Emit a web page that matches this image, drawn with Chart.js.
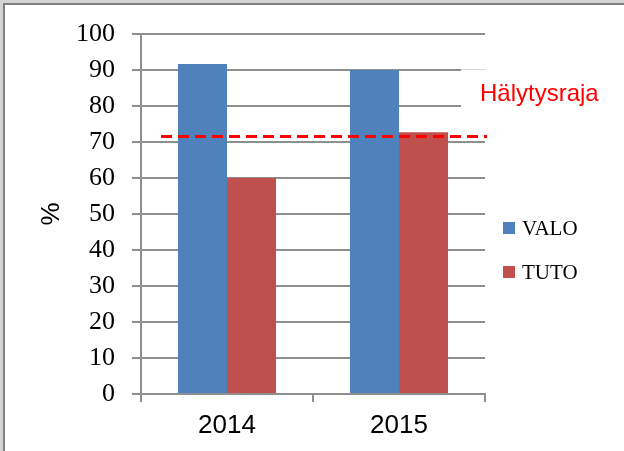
<!DOCTYPE html>
<html>
<head>
<meta charset="utf-8">
<script src="https://cdn.jsdelivr.net/npm/chart.js@4.4.1/dist/chart.umd.min.js"></script>
<style>
  html, body { margin: 0; padding: 0; background: #fff; }
  canvas { display: block; }
</style>
</head>
<body>
<canvas id="chart" width="624" height="451"></canvas>
<script>
// Chart data
const years = ["2014", "2015"];
const valoValues = [91.7, 90];
const tutoValues = [60, 72.7];
const alarmLimit = 71.5;
const alarmLabel = "Hälytysraja";
const seriesNames = ["VALO", "TUTO"];
const seriesColors = ["#4F81BD", "#C0504D"];

const gridColor = "#8f8f8f";

// Frame, threshold line and legend drawn on top of the chart
const extras = {
  id: "extras",
  beforeDraw(chart) {
    const ctx = chart.ctx;
    ctx.save();
    ctx.fillStyle = "#d4d4d4";
    ctx.fillRect(0, 0, chart.width, 4);
    ctx.fillRect(0, 0, 4, chart.height);
    ctx.fillStyle = "#808080";
    ctx.fillRect(3, 3, chart.width - 3, 2);
    ctx.fillRect(3, 3, 2, chart.height - 3);
    ctx.restore();
  },
  afterDatasetsDraw(chart) {
    const ctx = chart.ctx;
    const x = chart.scales.x;
    const y = chart.scales.y;
    ctx.save();

    // label box covering the grid
    const boxTop = y.getPixelForValue(90) - 1;
    const boxBottom = y.getPixelForValue(80) + 2;
    ctx.fillStyle = "#fff";
    ctx.fillRect(x.right - 24, boxTop, 150, boxBottom - boxTop);
    ctx.strokeStyle = "#d6d6d6";
    ctx.lineWidth = 1;
    ctx.beginPath();
    ctx.moveTo(x.right - 24, boxTop + 0.5);
    ctx.lineTo(x.right, boxTop + 0.5);
    ctx.stroke();

    // threshold line
    const ly = y.getPixelForValue(alarmLimit);
    ctx.strokeStyle = "#FF0000";
    ctx.lineWidth = 3;
    ctx.setLineDash([11, 6]);
    ctx.beginPath();
    ctx.moveTo(x.left + 20, ly);
    ctx.lineTo(x.right + 2, ly);
    ctx.stroke();
    ctx.setLineDash([]);

    ctx.fillStyle = "#FF0000";
    ctx.font = "24px 'Liberation Sans', Arial, sans-serif";
    ctx.textBaseline = "alphabetic";
    ctx.textAlign = "left";
    ctx.fillText(alarmLabel, 480, 101);

    // legend
    ctx.font = "21px 'Liberation Serif', 'Times New Roman', serif";
    ctx.textBaseline = "middle";
    const legendY = [228, 272];
    seriesNames.forEach((name, i) => {
      ctx.fillStyle = seriesColors[i];
      ctx.fillRect(503, legendY[i] - 6, 12, 12);
      ctx.fillStyle = "#000";
      ctx.fillText(name, 522, legendY[i] + 1);
    });
    ctx.restore();
  }
};

new Chart(document.getElementById("chart"), {
  type: "bar",
  data: {
    labels: years,
    datasets: [
      {
        label: seriesNames[0],
        data: valoValues,
        backgroundColor: seriesColors[0],
        categoryPercentage: 0.57,
        barPercentage: 1.0,
      },
      {
        label: seriesNames[1],
        data: tutoValues,
        backgroundColor: seriesColors[1],
        categoryPercentage: 0.57,
        barPercentage: 1.0,
      },
    ],
  },
  plugins: [extras],
  options: {
    responsive: false,
    animation: false,
    layout: { padding: { left: 0, right: 139, top: 34, bottom: 0 } },
    plugins: {
      legend: { display: false },
      tooltip: { enabled: false },
    },
    scales: {
      x: {
        afterFit: (s) => { s.height = 57; },
        grid: {
          offset: true,
          drawOnChartArea: false,
          drawTicks: true,
          tickLength: 8,
          color: gridColor,
          lineWidth: 2,
        },
        border: { display: true, color: gridColor, width: 2 },
        ticks: {
          color: "#000",
          padding: 8,
          font: { family: "'Liberation Sans', Arial, sans-serif", size: 26 },
        },
      },
      y: {
        min: 0,
        max: 100,
        afterFit: (s) => { s.width = 141; },
        grid: {
          color: gridColor,
          lineWidth: 2,
          tickLength: 9,
        },
        border: { display: true, color: gridColor, width: 2 },
        ticks: {
          stepSize: 10,
          color: "#000",
          padding: 17,
          font: { family: "'Liberation Serif', 'Times New Roman', serif", size: 26 },
        },
        title: {
          display: true,
          text: "%",
          color: "#000",
          padding: { top: 36, bottom: 0 },
          font: { family: "'Liberation Sans', Arial, sans-serif", size: 26 },
        },
      },
    },
  },
});
</script>
</body>
</html>
